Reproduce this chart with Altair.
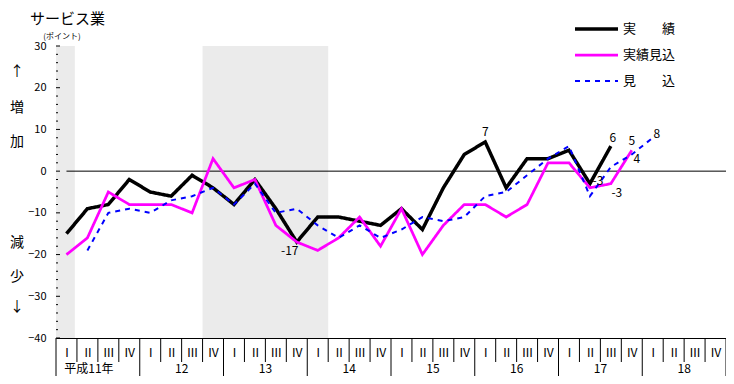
import altair as alt
import pandas as pd

JP = "Noto Sans CJK JP"

title_text = "サービス業"
unit_text = "(ポイント)"
side_chars = ["↑", "増", "加", "減", "少", "↓"]
quarter_names = ["Ⅰ", "Ⅱ", "Ⅲ", "Ⅳ"]
year_names = ["平成11年", "12", "13", "14", "15", "16", "17", "18"]
series_names = ["実　　績", "実績見込", "見　　込"]
series_colors = ["#000000", "#ff00ff", "#0000ff"]

# quarterly values (index 0 = 平成11年 I)
actual = [-15, -9, -8, -2, -5, -6, -1, -4, -8, -2, -9, -17, -11, -11, -12, -13,
          -9, -14, -4, 4, 7, -4, 3, 3, 5, -3, 6]
actual_start = 0
actual_est = [-20, -16, -5, -8, -8, -8, -10, 3, -4, -2, -13, -17, -19, -16, -11,
              -18, -9, -20, -13, -8, -8, -11, -8, 2, 2, -4, -3, 5]
actual_est_start = 0
forecast = [-19, -10, -9, -10, -7, -6, -4, -8, -3, -10, -9, -13, -16, -13, -16,
            -14, -11, -12, -11, -6, -5, -1, 3, 6, -6, 1, 4, 8]
forecast_start = 1

shade_start = [0, 7]
shade_end = [0.9, 13]

point_labels = [("実　　績", 11, "-17"), ("実　　績", 20, "7"), ("実　　績", 26, "6"),
                ("実　　績", 25, "-3"), ("実績見込", 26, "-3"), ("実績見込", 27, "5"),
                ("見　　込", 27, "4"), ("見　　込", 28, "8")]

# ---------------- styling / layout ----------------
W, H = 670, 292
label_offsets = [(-7, 9), (0, -10), (2, -8), (8, -3), (6, 9), (0, -9), (5, 5), (4, -4)]
side_y = [26, 62, 96, 197, 231, 261]

series_data = {series_names[0]: (actual, actual_start),
               series_names[1]: (actual_est, actual_est_start),
               series_names[2]: (forecast, forecast_start)}
rows = []
for name in series_names:
    vals, start = series_data[name]
    for k, v in enumerate(vals):
        rows.append({"series": name, "q": start + k + 0.5, "v": v})
df = pd.DataFrame(rows)

n_q = len(year_names) * 4
xs = alt.Scale(domain=[0, n_q], nice=False, zero=False)
ys = alt.Scale(domain=[-40, 30], nice=False, zero=False)

roman = "[" + ",".join("'" + q + "'" for q in quarter_names) + "]"
x_axis = alt.Axis(values=[i + 0.5 for i in range(n_q)], labelExpr=roman + "[floor(datum.value) % 4]",
                  ticks=False, labelPadding=9, domainColor="black", labelColor="black",
                  labelFont=JP, labelFontSize=12, labelFlush=False, labelOverlap=False,
                  grid=False, title=None)
y_axis = alt.Axis(values=list(range(-40, 31, 10)), ticks=False, labelPadding=10,
                  domainColor="black", labelColor="black", labelFont=JP, labelFontSize=11,
                  grid=False, title=None)


def X(field):
    return alt.X(field, scale=xs, axis=x_axis)


def Y(field):
    return alt.Y(field, scale=ys, axis=y_axis)


layers = []

shade = alt.Chart(pd.DataFrame({"s": shade_start, "e": shade_end})).mark_rect(
    color="#ebebeb").encode(x=X("s:Q"), x2="e:Q", y=alt.value(0), y2=alt.value(H))
layers.append(shade)

# y axis tick marks (inside)
tick_df = pd.DataFrame({"t": list(range(-40, 31, 2))})
tick_df["major"] = tick_df["t"] % 10 == 0
for major, ln in [(True, 4), (False, 2)]:
    layers.append(alt.Chart(tick_df[tick_df["major"] == major]).mark_rule(color="black").encode(
        y=Y("t:Q"), x=alt.value(0), x2=alt.value(ln)))

# zero line
zero_df = pd.DataFrame({"a": [0.5], "b": [n_q], "z": [0]})
layers.append(alt.Chart(zero_df).mark_rule(color="black", strokeWidth=1).encode(
    x=X("a:Q"), x2="b:Q", y=Y("z:Q")))

# table separators
bd = pd.DataFrame({"b": list(range(n_q + 1))})
bd["year"] = bd["b"] % 4 == 0
layers.append(alt.Chart(bd[~bd["year"]]).mark_rule(color="black").encode(
    x=X("b:Q"), y=alt.value(H), y2=alt.value(H + 24)))
layers.append(alt.Chart(bd[bd["year"]]).mark_rule(color="black").encode(
    x=X("b:Q"), y=alt.value(H), y2=alt.value(H + 40)))

# year labels
ydf = pd.DataFrame({"c": [i * 4 + 2 for i in range(len(year_names))], "t": year_names})
layers.append(alt.Chart(ydf.iloc[:1]).mark_text(font=JP, fontSize=12, color="black", dx=-9,
                                               baseline="middle").encode(
    x=X("c:Q"), y=alt.value(H + 31), text="t:N"))
layers.append(alt.Chart(ydf.iloc[1:]).mark_text(font=JP, fontSize=12, color="black",
                                               baseline="middle").encode(
    x=X("c:Q"), y=alt.value(H + 31), text="t:N"))

# lines
leg = alt.Legend(title=None, orient="none", legendX=517, legendY=-30, symbolType="stroke",
                 symbolSize=1849, clipHeight=26, labelFont=JP, labelFontSize=13,
                 labelColor="black", labelOffset=3, padding=0, rowPadding=0)
cscale = alt.Scale(domain=series_names, range=series_colors)
dscale = alt.Scale(domain=series_names, range=[[1, 0], [1, 0], [5, 5]])
wscale = alt.Scale(domain=series_names, range=[3.5, 2, 2.5])
for name in series_names:
    layers.append(alt.Chart(df).transform_filter(alt.datum.series == name).mark_line(
        strokeCap="butt").encode(
        x=X("q:Q"), y=Y("v:Q"),
        color=alt.Color("series:N", scale=cscale, legend=leg),
        strokeDash=alt.StrokeDash("series:N", scale=dscale, legend=leg),
        strokeWidth=alt.StrokeWidth("series:N", scale=wscale, legend=leg)))

# point labels
for (name, idx, txt), (dx, dy) in zip(point_labels, label_offsets):
    vals, start = series_data[name]
    val = vals[idx - start]
    layers.append(alt.Chart(pd.DataFrame({"q": [idx + 0.5], "v": [val], "t": [txt]})).mark_text(
        font=JP, fontSize=12, color="black", dx=dx, dy=dy, baseline="middle").encode(
        x=X("q:Q"), y=Y("v:Q"), text="t:N"))

one = alt.Data(values=[{}])
layers.append(alt.Chart(one).mark_text(font=JP, fontSize=15, color="black", align="left",
                                       baseline="middle").encode(
    x=alt.value(-26), y=alt.value(-27), text=alt.value(title_text)))
layers.append(alt.Chart(one).mark_text(font=JP, fontSize=8, color="black", align="center",
                                       baseline="middle").encode(
    x=alt.value(6), y=alt.value(-9), text=alt.value(unit_text)))
for ch, yy in zip(side_chars, side_y):
    layers.append(alt.Chart(one).mark_text(font=JP, fontSize=14, color="black",
                                           baseline="middle").encode(
        x=alt.value(-39), y=alt.value(yy), text=alt.value(ch)))

chart = alt.layer(*layers).properties(
    width=W, height=H,
    autosize=alt.AutoSizeParams(type="none"),
    padding={"left": 48, "top": 38, "right": 0, "bottom": 38},
).configure_view(stroke=None)

chart.save("out.html", embed_options={"renderer": "svg", "actions": False})
